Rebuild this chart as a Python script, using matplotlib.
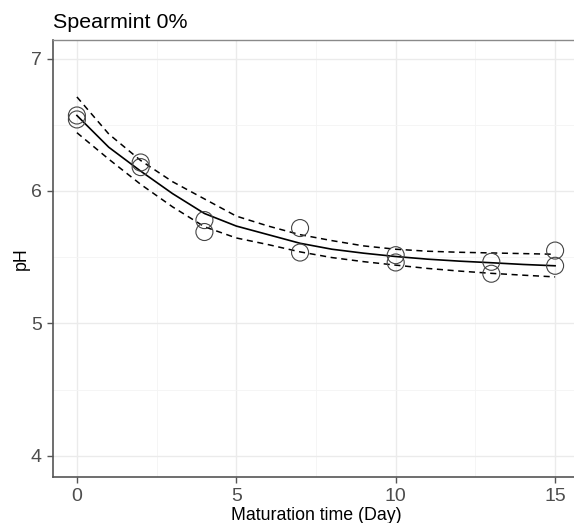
import numpy as np
import matplotlib.pyplot as plt

plt.rcParams['font.family'] = ['Liberation Sans', 'DejaVu Sans']

# observed pH (two replicates per day)
days = [0, 0, 2, 2, 4, 4, 7, 7, 10, 10, 13, 13, 15, 15]
ph = [6.57, 6.54, 6.215, 6.18, 5.78, 5.69, 5.72, 5.535, 5.515, 5.46, 5.465, 5.375, 5.55, 5.435]

# fitted curve and confidence band, read at whole days
t_fit = list(range(16))
fit = [6.57, 6.33, 6.15, 5.98, 5.83, 5.735, 5.67, 5.605, 5.56, 5.53, 5.505, 5.485, 5.47, 5.458, 5.445, 5.435]
upper = [6.71, 6.43, 6.23, 6.07, 5.94, 5.81, 5.735, 5.67, 5.625, 5.585, 5.56, 5.545, 5.537, 5.532, 5.527, 5.522]
lower = [6.44, 6.24, 6.05, 5.88, 5.73, 5.645, 5.595, 5.54, 5.497, 5.466, 5.44, 5.415, 5.395, 5.378, 5.364, 5.351]

fig = plt.figure(figsize=(5.74, 5.23), dpi=100)
ax = fig.add_axes([53/574, 46/523, 526/574, 437/523])

ax.set_xlim(-0.75, 15.75)
ax.set_ylim(3.84, 7.14)
ax.set_xticks([0, 5, 10, 15])
ax.set_yticks([4, 5, 6, 7])
ax.set_xticks([2.5, 7.5, 12.5], minor=True)
ax.set_yticks([4.5, 5.5, 6.5], minor=True)
ax.grid(which='major', color='#ebebeb', lw=1.0)
ax.grid(which='minor', color='#f4f4f4', lw=0.6)
ax.set_axisbelow(True)

ax.plot(t_fit, fit, color='black', lw=1.2, zorder=3)
ax.plot(t_fit, upper, color='black', lw=1.1, ls=(0, (4, 3)), zorder=3)
ax.plot(t_fit, lower, color='black', lw=1.1, ls=(0, (4, 3)), zorder=3)
ax.scatter(days, ph, s=150, facecolors='none', edgecolors='#444444', linewidths=0.8, zorder=4)

for s in ['top', 'right']:
    ax.spines[s].set_color('#8a8a8a')
    ax.spines[s].set_linewidth(1.0)
for s in ['left', 'bottom']:
    ax.spines[s].set_color('#555555')
    ax.spines[s].set_linewidth(1.2)

ax.tick_params(which='major', length=4, width=1.0, color='#555555', labelcolor='#4d4d4d', labelsize=14, pad=4)
ax.tick_params(which='minor', length=0)

ax.set_xlabel('Maturation time (Day)', fontsize=12.8, labelpad=1)
ax.set_ylabel('pH', fontsize=12.8, labelpad=1)
fig.text(53/574, 1 - 22/523, 'Spearmint 0%', fontsize=15.4, va='center', ha='left')

plt.savefig('out.png', dpi=100)
